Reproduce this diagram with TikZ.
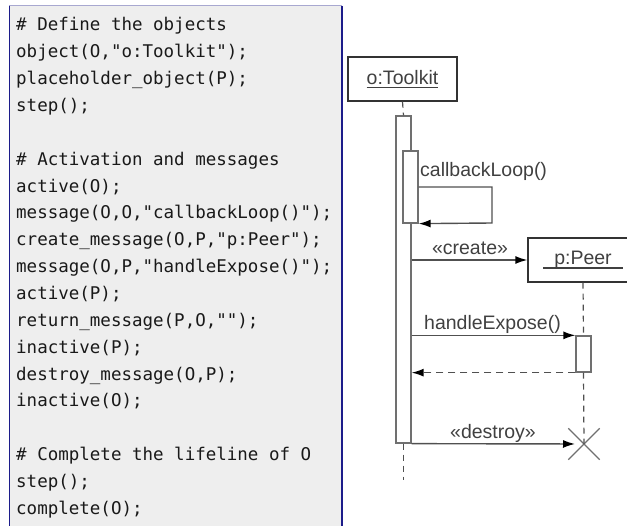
\documentclass[tikz,border=0pt]{standalone}
\usepackage{fontspec}
\setmainfont{Liberation Sans}
\newfontfamily\codefont{DejaVu Sans Mono}
\usetikzlibrary{arrows.meta,shapes.misc}
\definecolor{panelgray}{HTML}{EEEEEE}
\definecolor{panelblue}{HTML}{1C1C8A}
\definecolor{paneltop}{HTML}{A8A8D0}
\definecolor{umlline}{HTML}{505050}
\definecolor{umlbar}{HTML}{707070}
\definecolor{umltext}{HTML}{404040}
\newcommand{\umlul}[1]{\setbox0\hbox{#1}\rlap{\color{umltext}\rule[-4pt]{\wd0}{1.2pt}}\box0}
\begin{document}
\begin{tikzpicture}[x=1pt,y=-1pt,
  codeline/.style={anchor=base west, inner sep=0pt, text=black!90,
    font=\codefont\fontsize{17.5}{20}\selectfont},
  headbox/.style={draw=black!80, line width=1.3pt, fill=white, minimum width=109pt,
    minimum height=44pt, inner sep=0pt, text=umltext, font=\fontsize{19.5}{22}\selectfont},
  actbar/.style={draw=umlbar, line width=1.3pt, fill=white, minimum width=15pt, inner sep=0pt},
  lbl/.style={inner sep=0pt, text=umltext, font=\fontsize{19.5}{22}\selectfont},
  msg/.style={draw=umlline, line width=1.4pt, -{Latex[length=12pt,width=8pt,color=black]}},
  ret/.style={msg, dash pattern=on 7pt off 5pt},
  life/.style={draw=umlline, line width=1.2pt, dash pattern=on 6pt off 5pt},
  xmark/.style={cross out, draw=umlbar, line width=1.4pt, minimum size=30pt, inner sep=0pt}]
\useasboundingbox (0,0) rectangle (627,526);
% code panel
\fill[panelgray] (9,6) rectangle (342,530);
\draw[paneltop, line width=1pt] (9,6) -- (342,6);
\draw[panelblue, line width=1pt] (9,6) -- (9,530);
\draw[panelblue, line width=1.8pt] (342,6) -- (342,530);
\node[codeline] (c1)  at (16,31.0)  {\# Define the objects};
\node[codeline] (c2)  at (16,57.85) {object(O,"o:Toolkit");};
\node[codeline] (c3)  at (16,84.7)  {placeholder\_object(P);};
\node[codeline] (c4)  at (16,111.55) {step();};
\node[codeline] (c6)  at (16,165.25) {\# Activation and messages};
\node[codeline] (c7)  at (16,192.1) {active(O);};
\node[codeline] (c8)  at (16,218.95) {message(O,O,"callbackLoop()");};
\node[codeline] (c9)  at (16,245.8) {create\_message(O,P,"p:Peer");};
\node[codeline] (c10) at (16,272.65) {message(O,P,"handleExpose()");};
\node[codeline] (c11) at (16,299.5) {active(P);};
\node[codeline] (c12) at (16,326.35) {return\_message(P,O,"");};
\node[codeline] (c13) at (16,353.2) {inactive(P);};
\node[codeline] (c14) at (16,380.05) {destroy\_message(O,P);};
\node[codeline] (c15) at (16,406.9) {inactive(O);};
\node[codeline] (c17) at (16,460.6) {\# Complete the lifeline of O};
\node[codeline] (c18) at (16,487.45) {step();};
\node[codeline] (c19) at (16,514.3) {complete(O);};
% sequence diagram
\node[headbox] (O) at (402.5,79) {\umlul{o:Toolkit}};
\node[headbox, minimum width=110pt] (P) at (583,260) {\umlul{\hspace{11pt}p:Peer\hspace{11pt}}};
\node[actbar, minimum height=327pt] (Oact) at (403.5,279.5) {};
\node[actbar, minimum height=72pt] (Iact) at (410.5,187) {};
\node[actbar, minimum height=36pt] (Pact) at (583.5,354) {};
\node[xmark] (X) at (584,444) {};
\coordinate (Oend) at (403.5,480);
% lifelines
\draw[life] (O.south) -- (Oact.north);
\draw[life] (Oact.south) -- (Oend);
\draw[life] (P.south) -- (Pact.north);
\draw[life] (Pact.south) -- (X.center);
% messages
\draw[msg] (Iact.east |- 0,187) -- (492,187) -- (492,223) -- (Iact.south east);
\draw[msg] (Oact.east |- P.west) -- (P.west);
\draw[msg] (Oact.east |- Pact.north west) -- (Pact.north west);
\draw[ret] (Pact.south west) -- (Oact.east |- Pact.south west);
\draw[msg, shorten >=9pt] (Oact.south east) -- (X.center);
% labels
\node[lbl, anchor=base west] (lcb) at (420,177) {callbackLoop()};
\node[lbl, anchor=base] (lcr) at (470,255) {«create»};
\node[lbl, anchor=base west] (lhe) at (424,330) {handleExpose()};
\node[lbl, anchor=base] (lde) at (493,439) {«destroy»};
\end{tikzpicture}
\end{document}
